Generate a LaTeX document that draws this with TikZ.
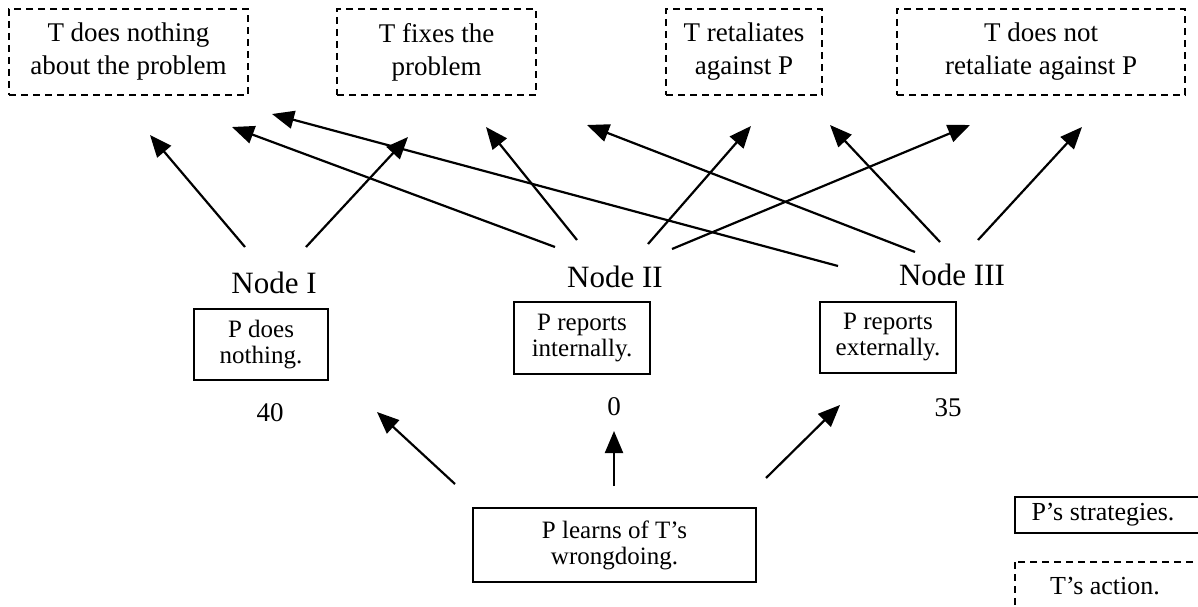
\documentclass[tikz,border=0pt]{standalone}
\usepackage{fontspec}
\setmainfont{Liberation Serif}
\usetikzlibrary{arrows.meta}
\tikzset{
  tbox/.style={draw, dashed, dash pattern=on 7pt off 5pt, line width=1.6pt, align=center, inner sep=0pt,
    font=\fontsize{27}{33}\selectfont},
  pbox/.style={draw, line width=1.6pt, align=center, inner sep=0pt,
    font=\fontsize{25}{26}\selectfont},
  nlabel/.style={font=\fontsize{31}{36}\selectfont, inner sep=0pt},
  num/.style={font=\fontsize{27}{30}\selectfont, inner sep=0pt},
  legtext/.style={font=\fontsize{26}{30}\selectfont, inner sep=0pt},
  arr/.style={line width=2.2pt, -{Triangle[length=22pt,width=18pt]}},
}
\begin{document}
\begin{tikzpicture}[x=1pt,y=-1pt]
\useasboundingbox (0,0) rectangle (1198,607);
\clip (0,0) rectangle (1198,607);
% top boxes (T's actions)
\node[tbox, minimum width=239pt, minimum height=86pt] (t1) at (128.5,52) {T does nothing\\about the problem};
\node[tbox, minimum width=199pt, minimum height=86pt] (t2) at (436.5,52) {T fixes the\\problem};
\node[tbox, minimum width=156pt, minimum height=86pt] (t3) at (744,52) {T retaliates\\against P};
\node[tbox, minimum width=288pt, minimum height=86pt] (t4) at (1041,52) {T does not\\retaliate against P};
% node labels
\node[nlabel] (n1) at (274,283) {Node I};
\node[nlabel] (n2) at (615,277) {Node II};
\node[nlabel] (n3) at (952,275) {Node III};
% strategy boxes
\node[pbox, minimum width=134pt, minimum height=71pt] (s1) at (261,344.5) {P does\\nothing.};
\node[pbox, minimum width=136pt, minimum height=72pt] (s2) at (582,338) {P reports\\internally.};
\node[pbox, minimum width=136pt, minimum height=71pt] (s3) at (888,337.5) {P reports\\externally.};
% numbers
\node[num] (v1) at (270,413) {40};
\node[num] (v2) at (614,407) {0};
\node[num] (v3) at (948,408) {35};
% start box
\node[pbox, minimum width=283pt, minimum height=74pt] (start) at (614.5,545) {P learns of T’s\\wrongdoing.};
% legend (boxes run past the right edge)
\draw[line width=1.6pt] (1015,497) rectangle (1260,533);
\node[legtext] (legp) at (1103,515) {P’s strategies.};
\draw[line width=1.6pt, dashed, dash pattern=on 7pt off 5pt] (1015,562) rectangle (1260,640);
\node[legtext] (legt) at (1105,586) {T’s action.};
% arrow end points
\coordinate (a1s) at (245,247); \coordinate (a1e) at (150,135);
\coordinate (a2s) at (306,247); \coordinate (a2e) at (408,137);
\coordinate (a3s) at (555,247); \coordinate (a3e) at (232,127);
\coordinate (a4s) at (838,266); \coordinate (a4e) at (272,114);
\coordinate (a5s) at (577,240); \coordinate (a5e) at (486,127);
\coordinate (a6s) at (915,252); \coordinate (a6e) at (587,125);
\coordinate (a7s) at (648,244); \coordinate (a7e) at (751,126);
\coordinate (a8s) at (672,249); \coordinate (a8e) at (970,125);
\coordinate (a9s) at (940,242); \coordinate (a9e) at (830,125);
\coordinate (a10s) at (978,240); \coordinate (a10e) at (1082,127);
\coordinate (b1s) at (455,484); \coordinate (b1e) at (377,412);
\coordinate (b2s) at (614,486); \coordinate (b2e) at (614,431);
\coordinate (b3s) at (766,478); \coordinate (b3e) at (840,405);
\foreach \i in {1,...,10} {\draw[arr] (a\i s) -- (a\i e);}
\foreach \i in {1,2,3} {\draw[arr] (b\i s) -- (b\i e);}
\end{tikzpicture}
\end{document}
